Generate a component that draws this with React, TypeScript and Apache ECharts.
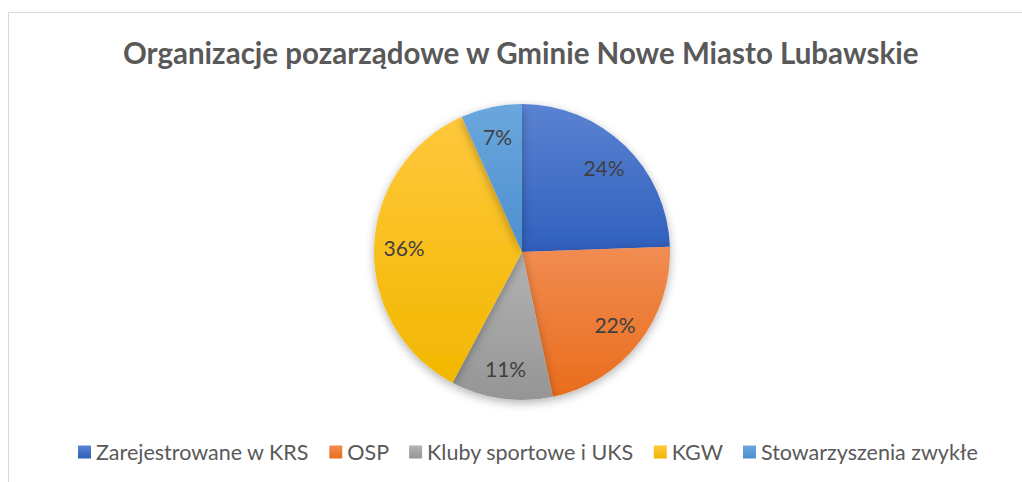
import React, { useEffect, useRef } from "react";
import * as echarts from "echarts";

const titleText = "Organizacje pozarządowe w Gminie Nowe Miasto Lubawskie";
const categories = [
  "Zarejestrowane w KRS",
  "OSP",
  "Kluby sportowe i UKS",
  "KGW",
  "Stowarzyszenia zwykłe",
];
const counts = [11, 10, 5, 16, 3];
const topColors = ["#5b83d2", "#f18c52", "#b3b3b3", "#ffc83c", "#6aa7dd"];
const bottomColors = ["#2f5fbd", "#e96d1c", "#959595", "#f2b700", "#4d90cf"];

const grad = (i: number) =>
  new echarts.graphic.LinearGradient(0, 0, 0, 1, [
    { offset: 0, color: topColors[i] },
    { offset: 1, color: bottomColors[i] },
  ]);

export default function App() {
  const ref = useRef<HTMLDivElement>(null);
  useEffect(() => {
    if (!ref.current) return;
    const chart = echarts.init(ref.current, null, { renderer: "svg" });
    const font = "Lato, 'Open Sans', sans-serif";
    const total = counts.reduce((a, b) => a + b, 0);
    const data = categories.map((name, i) => ({
      name,
      value: counts[i],
      itemStyle: { color: grad(i) },
    }));
    chart.setOption({
      animation: false,
      backgroundColor: "#ffffff",
      graphic: [
        {
          type: "rect",
          shape: { x: 8.5, y: 12.5, width: 1200, height: 700 },
          style: { fill: "none", stroke: "#d9d9d9", lineWidth: 1 },
          silent: true,
        },
      ],
      title: {
        text: titleText,
        left: 118,
        top: 32,
        textStyle: {
          fontFamily: font,
          fontSize: 29.5,
          fontWeight: "bold",
          color: "#595959",
        },
      },
      legend: {
        bottom: 14,
        left: 73,
        itemWidth: 13,
        itemHeight: 13,
        itemGap: 20,
        icon: "rect",
        textStyle: { fontFamily: font, fontSize: 21.5, color: "#595959" },
        data: categories,
      },
      series: [
        {
          type: "pie",
          center: [522, 252],
          radius: [0, 148],
          startAngle: 90,
          clockwise: true,
          data,
          label: { show: false },
          labelLine: { show: false },
          itemStyle: {
            shadowBlur: 10,
            shadowOffsetY: 3,
            shadowColor: "rgba(0,0,0,0.3)",
          },
          emphasis: { disabled: true },
        },
        {
          type: "pie",
          center: [522, 252],
          radius: [100, 130],
          startAngle: 90,
          clockwise: true,
          silent: true,
          legendHoverLink: false,
          data: categories.map((name, i) => ({ name: name, value: counts[i] })),
          itemStyle: { color: "rgba(0,0,0,0)" },
          label: {
            show: true,
            position: "inside",
            fontFamily: font,
            fontSize: 21,
            color: "#404040",
            formatter: (p: any) => Math.round((p.value / total) * 100) + "%",
          },
          labelLine: { show: false },
          emphasis: { disabled: true },
        },
      ],
    });
    return () => chart.dispose();
  }, []);
  return (
    <div style={{ position: "fixed", left: 0, top: 0, width: 1022, height: 482 }}>
      <div ref={ref} style={{ width: 1022, height: 482 }} />
    </div>
  );
}
